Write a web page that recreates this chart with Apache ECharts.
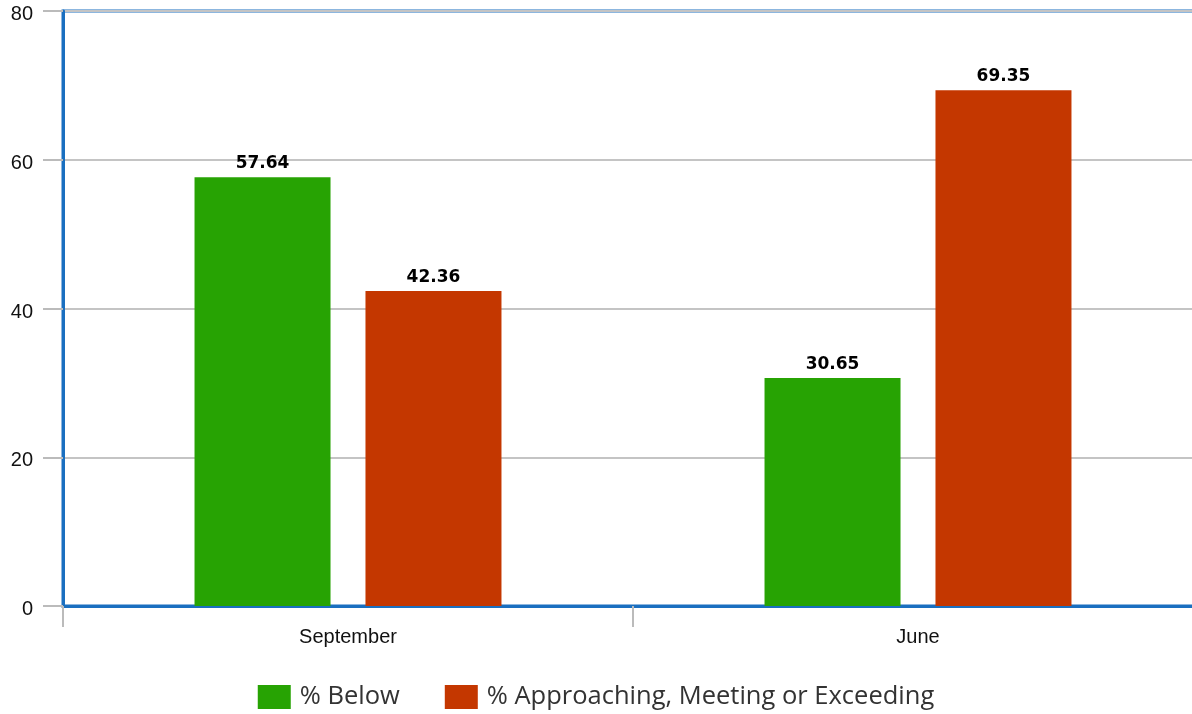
<!DOCTYPE html>
<html><head><meta charset="utf-8">
<script src="https://cdn.jsdelivr.net/npm/echarts@6/dist/echarts.min.js"></script>
<style>html,body{margin:0;padding:0;background:#fff}#c{width:1192px;height:714px}</style>
</head><body><div id="c"></div>
<script>
const categories = ["September", "June"];
const seriesNames = ["% Below", "% Approaching, Meeting or Exceeding"];
const belowValues = [57.64, 30.65];
const approachingValues = [42.36, 69.35];
const yTicks = [0, 20, 40, 60, 80];

const chart = echarts.init(document.getElementById('c'));
const labelStyle = {show: true, position: 'top', distance: 5, color: '#000', fontWeight: 'bold', fontSize: 17, fontFamily: 'DejaVu Sans, sans-serif', formatter: p => p.value.toFixed(2)};
chart.setOption({
  animation: false,
  grid: {left: 63, right: -11, top: 11, bottom: 108, outerBoundsMode: 'none', containLabel: false, show: true, borderColor: '#1a6fc0', borderWidth: 3, backgroundColor: 'transparent'},
  legend: {
    bottom: -1, left: 'center', icon: 'rect', itemWidth: 33, itemHeight: 24, itemGap: 45,
    textStyle: {fontSize: 25.5, color: '#333', fontFamily: 'Open Sans, sans-serif', padding: [0,0,0,4]},
    data: seriesNames
  },
  xAxis: {
    type: 'category', data: categories,
    axisLine: {lineStyle: {color: '#1a6fc0', width: 3}},
    axisTick: {show: true, length: 21, lineStyle: {color: '#bbb', width: 2}},
    axisLabel: {margin: 21, fontSize: 20, color: '#111', fontFamily: 'Liberation Sans, Arial, sans-serif'}
  },
  yAxis: {
    type: 'value', min: yTicks[0], max: yTicks[yTicks.length-1], interval: 20,
    axisLine: {show: true, lineStyle: {color: '#1a6fc0', width: 3}},
    axisTick: {show: true, length: 20, lineStyle: {color: '#bbb', width: 2}},
    axisLabel: {
      margin: 30, color: '#111',
      formatter: v => '{a|' + v + '}',
      rich: {a: {fontSize: 20, color: '#111', fontFamily: 'Liberation Sans, Arial, sans-serif', padding: [7, 0, 0, 0]}}
    },
    splitLine: {lineStyle: {color: '#c4c4c4', width: 2}}
  },
  series: [
    {name: seriesNames[0], type: 'bar', data: belowValues, barWidth: 136, barGap: '25.7%', itemStyle: {color: '#27a303'}, label: labelStyle},
    {name: seriesNames[1], type: 'bar', data: approachingValues, barWidth: 136, barGap: '25.7%', itemStyle: {color: '#c43700'}, label: labelStyle}
  ]
});
</script></body></html>
